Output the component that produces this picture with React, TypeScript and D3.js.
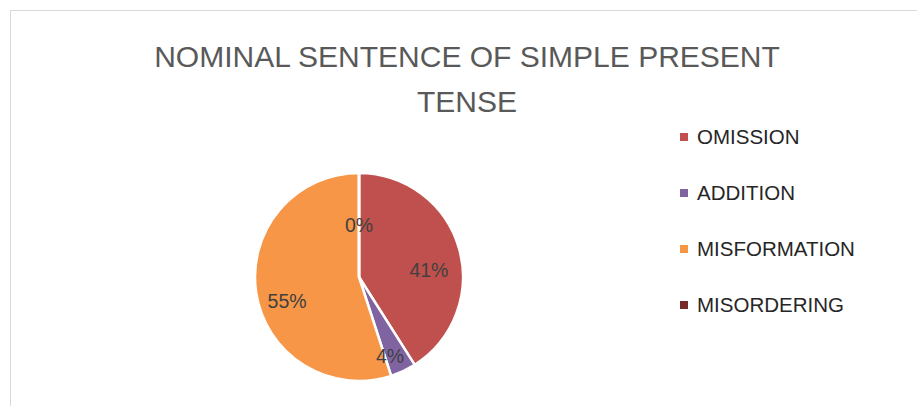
import React, { useEffect, useRef } from "react";
import * as d3 from "d3";

// chart data
const categories = ["OMISSION", "ADDITION", "MISFORMATION", "MISORDERING"];
const percents = [41, 4, 55, 0];
const sliceColors = ["#c0504d", "#8064a2", "#f79646", "#772c2a"];
const titleLines = ["NOMINAL SENTENCE OF SIMPLE PRESENT", "TENSE"];

const W = 917;
const H = 406;

export default function App() {
  const ref = useRef<SVGSVGElement>(null);

  useEffect(() => {
    const svg = d3.select(ref.current);
    svg.selectAll("*").remove();

    // outer chart frame (clipped at the right / bottom)
    svg
      .append("rect")
      .attr("x", 10.5)
      .attr("y", 10.5)
      .attr("width", W)
      .attr("height", H)
      .attr("fill", "#fff")
      .attr("stroke", "#d9d9d9")
      .attr("stroke-width", 1);

    // title
    svg
      .append("g")
      .selectAll("text")
      .data(titleLines)
      .join("text")
      .attr("x", 467)
      .attr("y", (d, i) => 67 + i * 44.5)
      .attr("text-anchor", "middle")
      .attr("font-family", "'Liberation Sans', Arial, sans-serif")
      .attr("font-size", 30)
      .attr("fill", "#595959")
      .text((d) => d);

    // pie
    const cx = 359,
      cy = 277,
      r = 104;
    const data = categories.map((c, i) => ({ name: c, value: percents[i], color: sliceColors[i] }));
    const pie = d3
      .pie<any>()
      .sort(null)
      .value((d) => d.value);
    const arcs = pie(data);
    const arc = d3.arc<any>().innerRadius(0).outerRadius(r);
    const labelArc = d3.arc<any>().innerRadius(r * 0.7).outerRadius(r * 0.7);

    const g = svg.append("g").attr("transform", `translate(${cx},${cy})`);
    g.selectAll("path")
      .data(arcs)
      .join("path")
      .attr("d", arc)
      .attr("fill", (d) => d.data.color)
      .attr("stroke", "#fff")
      .attr("stroke-width", 2.5)
      .attr("stroke-linejoin", "round");

    // zero slice still shows as a white line at the top
    g.append("line")
      .attr("x1", 0)
      .attr("y1", 0)
      .attr("x2", 0)
      .attr("y2", -r - 1)
      .attr("stroke", "#fff")
      .attr("stroke-width", 2.5);

    g.selectAll("text.lbl")
      .data(arcs)
      .join("text")
      .attr("class", "lbl")
      .attr("transform", (d) => {
        let [x, y] = labelArc.centroid(d);
        y += 13;
        if (d.data.value === 0) {
          x = 0;
          y = -r * 0.5;
        }
        return `translate(${x},${y})`;
      })
      .attr("dy", "0.36em")
      .attr("text-anchor", "middle")
      .attr("font-family", "'Liberation Sans', Arial, sans-serif")
      .attr("font-size", 19.5)
      .attr("fill", "#404040")
      .text((d) => d.data.value + "%");

    // legend
    const yLeg = d3.scalePoint().domain(categories).range([137, 305]);
    const leg = svg
      .append("g")
      .selectAll("g")
      .data(data)
      .join("g")
      .attr("transform", (d) => `translate(680,${yLeg(d.name)})`);
    leg
      .append("rect")
      .attr("x", 0)
      .attr("y", -4)
      .attr("width", 8)
      .attr("height", 8)
      .attr("fill", (d) => d.color);
    leg
      .append("text")
      .attr("x", 17)
      .attr("dy", "0.36em")
      .attr("font-family", "'Liberation Sans', Arial, sans-serif")
      .attr("font-size", 20.5)
      .attr("fill", "#262626")
      .text((d) => d.name);
  }, []);

  return (
    <svg
      ref={ref}
      width={W}
      height={H}
      style={{ position: "absolute", left: 0, top: 0, background: "#fff" }}
    ></svg>
  );
}
